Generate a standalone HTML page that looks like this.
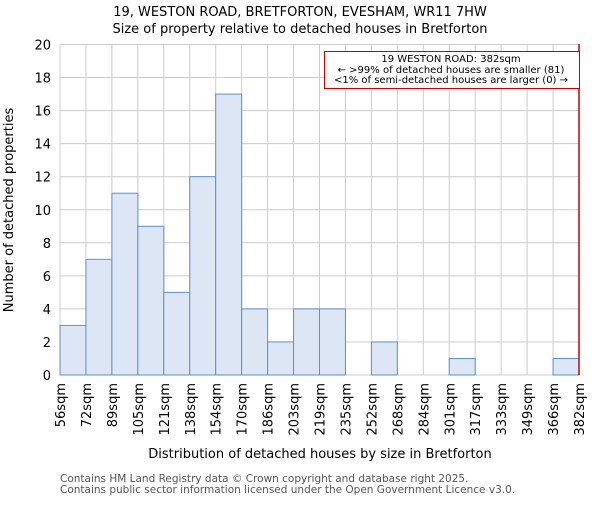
<!DOCTYPE html>
<html><head><meta charset="utf-8"><style>
body{margin:0;background:#fff;}
svg{font-family:"DejaVu Sans","Liberation Sans",sans-serif;}
</style></head><body>
<svg id="chart" width="600" height="500" viewBox="0 0 600 500" xmlns="http://www.w3.org/2000/svg">
<text x="300" y="16" text-anchor="middle" font-size="13">19, WESTON ROAD, BRETFORTON, EVESHAM, WR11 7HW</text>
<text x="300" y="33" text-anchor="middle" font-size="13">Size of property relative to detached houses in Bretforton</text>
<g id="grid"></g><g id="bars"></g><g id="yticks"></g><g id="xticks"></g>
<text transform="translate(13,210) rotate(-90)" text-anchor="middle" font-size="13">Number of detached properties</text>
<text x="320" y="458" text-anchor="middle" font-size="13">Distribution of detached houses by size in Bretforton</text>
<text x="60" y="482" font-size="10.5" fill="#555">Contains HM Land Registry data © Crown copyright and database right 2025.</text>
<text x="60" y="493" font-size="10.5" fill="#555">Contains public sector information licensed under the Open Government Licence v3.0.</text>
<line x1="579" y1="44" x2="579" y2="375" stroke="#cc0000" stroke-width="1.5"/>
<g>
<rect x="324.5" y="51.5" width="255" height="37" fill="#fff" stroke="#cc0000" stroke-width="1"/>
<text x="451" y="62" text-anchor="middle" font-size="10">19 WESTON ROAD: 382sqm</text>
<text x="451" y="73" text-anchor="middle" font-size="10">← &gt;99% of detached houses are smaller (81)</text>
<text x="451" y="83" text-anchor="middle" font-size="10">&lt;1% of semi-detached houses are larger (0) →</text>
</g>
</svg>
<script>
const categories=["56sqm","72sqm","89sqm","105sqm","121sqm","138sqm","154sqm","170sqm","186sqm","203sqm","219sqm","235sqm","252sqm","268sqm","284sqm","301sqm","317sqm","333sqm","349sqm","366sqm","382sqm"];
const counts=[3,7,11,9,5,12,17,4,2,4,4,0,2,0,0,1,0,0,0,1];
const yTicks=[0,2,4,6,8,10,12,14,16,18,20];
const NS="http://www.w3.org/2000/svg";
const x0=60,x1=579,yTop=44.5,yBot=375,yMax=20;
const bw=(x1-x0)/counts.length;
function xs(i){return x0+i*bw;}
function ys(v){return yBot-(v/yMax)*(yBot-yTop);}
function mk(t,a,p){const e=document.createElementNS(NS,t);for(const k in a)e.setAttribute(k,a[k]);p.appendChild(e);return e;}
const grid=document.getElementById('grid'),bars=document.getElementById('bars'),yt=document.getElementById('yticks'),xt=document.getElementById('xticks');
yTicks.forEach(v=>{
 const l=mk('line',{x1:x0,x2:x1,y1:ys(v),y2:ys(v),stroke:'#cccccc','stroke-width':1},grid);
 
 
 const t=mk('text',{x:x0-9,y:ys(v)+5,'text-anchor':'end','font-size':13},yt);
 t.textContent=v;
 
 
});
categories.forEach((c,i)=>{
 const l=mk('line',{x1:xs(i),x2:xs(i),y1:yTop,y2:yBot,stroke:'#cccccc','stroke-width':1},grid);
 
 
 const t=mk('text',{transform:`translate(${xs(i)+5},${yBot+8}) rotate(-90)`,'text-anchor':'end','font-size':13},xt);
 t.textContent=c;
 
 
});
counts.forEach((v,i)=>{
 if(v<=0)return;
 const r=mk('rect',{x:xs(i),y:ys(v),width:bw,height:yBot-ys(v),fill:'#dce6f4',stroke:'#5b8fd6','stroke-width':1},bars);
 
 
});
</script>
</body></html>
